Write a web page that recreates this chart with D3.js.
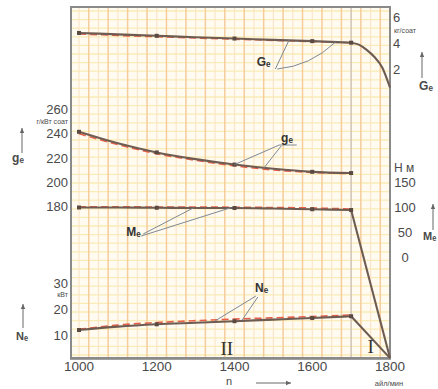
<!DOCTYPE html>
<html><head><meta charset="utf-8">
<script src="https://cdn.jsdelivr.net/npm/d3@7"></script>
<style>body{margin:0;background:#fff}svg{display:block}</style>
</head><body><svg id="c" width="438" height="389"></svg>
<script>
// ---- data ----
const rpm       = [1000,1100,1200,1300,1400,1500,1600,1700];
const rpmDrop   = [1700,1720,1740,1760,1780,1800];
const rpmEnd    = [1700,1800];
const GeSolid   = [4.85,4.74,4.63,4.52,4.42,4.32,4.22,4.1];
const GeDashed  = [4.77,4.66,4.56,4.46,4.37,4.28,4.19,4.1];
const GeDrop    = [4.1,3.95,3.55,3.0,2.2,0.65];
const geSolid   = [242,232.5,225,219.5,215,211.5,209,208];
const geDashed  = [240.5,231.5,224,218.5,214,210.5,208.5,207.5];
const MeSolid   = [101,101,100.5,100,100,99,97.5,96];
const MeDashed  = [102.5,102.5,102,102,101.5,101,100,98];
const MeEnd     = [96,-200];
const NeSolid   = [12.3,13.6,14.5,15.1,15.7,16.3,16.9,17.6];
const NeDashed  = [12.6,14.2,15.2,15.9,16.5,17.0,17.5,18.1];
const NeEnd     = [17.6,1.5];
const markerRpm = [1000,1200,1400,1600,1700];
const xTicks    = [1000,1200,1400,1600,1800];
const GeTicks   = [2,4,6];
const geTicks   = [180,200,220,240,260];
const MeTicks   = [0,50,100,150];
const NeTicks   = [10,20,30];

// ---- layout ----
const L = 71, R = 390, T = 7, B = 358;
const svg = d3.select("#c");
const x   = d3.scaleLinear([1000,1800],[79,390]);
const yGe = d3.scaleLinear([2,6],[70,18]);
const yge = d3.scaleLinear([180,260],[207,110]);
const yMe = d3.scaleLinear([0,150],[258,183]);
const yNe = d3.scaleLinear([10,30],[336,284]);

// background + grid
svg.append("rect").attr("x",L).attr("y",T).attr("width",R-L).attr("height",B-T).attr("fill","#fffbf0");
const gy = d3.range(T+4, B, 8.6);
svg.append("g").selectAll("line").data(gy).join("line")
  .attr("x1",L).attr("x2",R).attr("y1",d=>d).attr("y2",d=>d)
  .attr("stroke","#faecb6").attr("stroke-width",1.3);
const gx = d3.range(1000,1800,25);
svg.append("g").selectAll("line").data(gx).join("line")
  .attr("x1",d=>x(d)).attr("x2",d=>x(d)).attr("y1",T).attr("y2",B)
  .attr("stroke",d=>((d-1025)%50===0)?"#f5cc9c":"#fbe4c8")
  .attr("stroke-width",d=>((d-1025)%50===0)?1.5:1.1);
svg.append("line").attr("x1",x(1700)).attr("x2",x(1700)).attr("y1",T).attr("y2",B)
  .attr("stroke","#c0b8b0").attr("stroke-width",1.1);

// frame
svg.append("rect").attr("x",L).attr("y",T).attr("width",R-L).attr("height",B-T)
  .attr("fill","none").attr("stroke","#8a8a8a").attr("stroke-width",2);
svg.append("line").attr("x1",L-1).attr("x2",R+1).attr("y1",B+1.5).attr("y2",B+1.5).attr("stroke","#a0a0a0").attr("stroke-width",1.2);

// lines
const solidC = "#6e5c52", dashC = "#e8604a";
function draw(xs, ys, yS, dashed, curve){
  const ln = d3.line().x((d,i)=>x(xs[i])).y(d=>yS(d)).curve(curve||d3.curveMonotoneX);
  svg.append("path").datum(ys).attr("d",ln).attr("fill","none")
    .attr("stroke",dashed?dashC:solidC).attr("stroke-width",dashed?1.6:2.1)
    .attr("stroke-dasharray",dashed?"7,4":null);
}
draw(rpm, GeDashed, yGe, true);
draw(rpm, geDashed, yge, true);
draw(rpm, MeDashed, yMe, true);
draw(rpm, NeDashed, yNe, true);
draw(rpm, GeSolid, yGe, false);
draw(rpmDrop, GeDrop, yGe, false);
draw(rpm, geSolid, yge, false);
draw(rpm, MeSolid, yMe, false);
draw(rpmEnd, MeEnd, yMe, false, d3.curveLinear);
draw(rpm, NeSolid, yNe, false);
draw(rpmEnd, NeEnd, yNe, false, d3.curveLinear);

// markers
const mk = svg.append("g").attr("fill","#5a4a42");
[[GeSolid,yGe],[geSolid,yge],[MeSolid,yMe],[NeSolid,yNe]].forEach(([vals,ys])=>{
  markerRpm.forEach(r=>{
    const v = vals[rpm.indexOf(r)];
    mk.append("rect").attr("x",x(r)-2).attr("y",ys(v)-2).attr("width",4).attr("height",4);
  });
});

// axes text
const tf = "Liberation Sans, Arial, sans-serif";
function txt(xp, yp, s, size, anchor, opts){
  const t = svg.append("text").attr("x",xp).attr("y",yp).text(s)
    .attr("font-family",(opts&&opts.serif)?"Liberation Serif, serif":tf)
    .attr("font-size",size).attr("text-anchor",anchor||"start")
    .attr("fill",(opts&&opts.fill)||"#4a4a4a");
  if(opts&&opts.bold) t.attr("font-weight","bold");
  return t;
}
xTicks.forEach(t=>txt(x(t), 371, t, 13.5, "middle"));
geTicks.forEach(t=>txt(68, yge(t)+4, t, 13, "end"));
NeTicks.forEach(t=>txt(68, yNe(t)+4, t, 13, "end"));
GeTicks.forEach(t=>txt(393, yGe(t)+4, t, 13, "start"));
MeTicks.forEach(t=>txt(405, yMe(t)+4, t, 13, "middle"));

// unit labels
txt(68, 124, "г/кВт соат", 7, "end");
txt(68, 297, "кВт", 7, "end");
txt(394, 33, "кг/соат", 7, "start");
txt(394, 172, "Н м", 12, "start");
txt(389, 386, "айл/мин", 7.5, "middle");
txt(229, 385, "n", 11, "middle");

// arrows
function arrow(x1,y1,x2,y2){
  svg.append("line").attr("x1",x1).attr("y1",y1).attr("x2",x2).attr("y2",y2)
    .attr("stroke","#666").attr("stroke-width",1);
  const a = Math.atan2(y2-y1,x2-x1), s=5;
  const p = [[x2,y2],[x2-s*Math.cos(a)+2.2*Math.sin(a), y2-s*Math.sin(a)-2.2*Math.cos(a)],
             [x2-s*Math.cos(a)-2.2*Math.sin(a), y2-s*Math.sin(a)+2.2*Math.cos(a)]];
  svg.append("polygon").attr("points",p.map(q=>q.join(",")).join(" ")).attr("fill","#666");
}
arrow(22,153,22,128);
arrow(23,328,23,304);
arrow(422,78,422,52);
arrow(433,230,433,204);
arrow(256,383,291,383);

// axis symbols
txt(18, 162, "gₑ", 12, "middle", {bold:true});
txt(22, 340, "Nₑ", 11, "middle", {bold:true});
txt(426, 90, "Gₑ", 12, "middle", {bold:true});
txt(423, 240, "Mₑ", 11, "start", {bold:true});

// curve labels with leaders
const lead = svg.append("g").attr("stroke","#7d8894").attr("stroke-width",1).attr("fill","none");
function leader(x1,y1,x2,y2){ lead.append("line").attr("x1",x1).attr("y1",y1).attr("x2",x2).attr("y2",y2); }
txt(x(1475), 66, "Gₑ", 12, "middle", {bold:true,fill:"#333"});
leader(x(1505),69,x(1540),yGe(4.28));
lead.append("path").attr("d",`M${x(1510)},69 Q${x(1595)},66 ${x(1660)},${yGe(4.15)}`);
txt(x(1535), 142, "gₑ", 12, "middle", {bold:true,fill:"#333"});
leader(x(1515),145,x(1560),145);
leader(x(1515),145,x(1400),yge(215));
leader(x(1520),146,x(1475),yge(212));
txt(x(1140), 236, "Mₑ", 12, "middle", {bold:true,fill:"#333"});
leader(x(1165),234,x(1295),yMe(100.5));
leader(x(1160),236,x(1390),yMe(100.5));
txt(x(1470), 292, "Nₑ", 12, "middle", {bold:true,fill:"#333"});
leader(x(1455),296,x(1350),yNe(15.8));
leader(x(1460),297,x(1420),yNe(16.2));

// region numerals
txt(x(1380), 355, "II", 19, "middle", {serif:true, fill:"#333"});
txt(x(1750), 353, "I", 19, "middle", {serif:true, fill:"#333"});
</script></body></html>
